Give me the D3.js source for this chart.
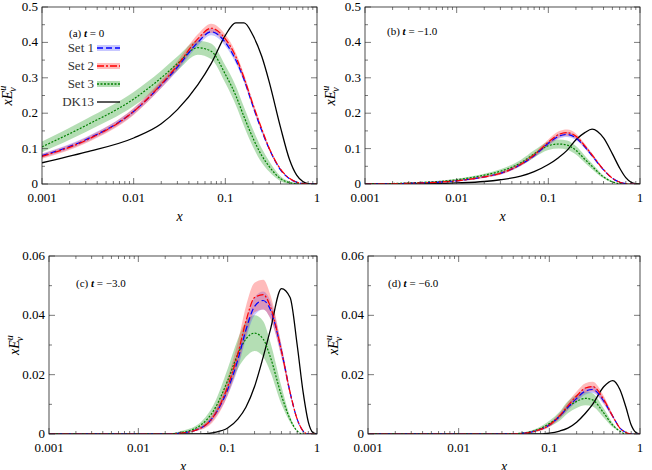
<!DOCTYPE html>
<html>
<head>
<meta charset="utf-8">
<script src="https://d3js.org/d3.v7.min.js"></script>
<style>
  body { margin: 0; background: white; }
  text { font-family: "Liberation Serif", "DejaVu Serif", serif; }
</style>
</head>
<body>
<svg id="svg" width="652" height="470"></svg>
<script>
// shared x grid
var xs = [0.001,0.003,0.01,0.02,0.03,0.05,0.07,0.1,0.13,0.16,0.2,0.25,0.3,0.4,0.5,0.6,0.7,0.8,0.9,1]

// panel (a) t = 0
var a1 = [.08,.125,.205,.28,.33,.40,.43,.40,.35,.295,.22,.15,.10,.04,.015,.005,.001,0,0,0]
var a2 = [.078,.123,.205,.282,.335,.41,.44,.41,.36,.30,.225,.155,.102,.042,.016,.005,.001,0,0,0]
var a3 = [.105,.165,.24,.30,.34,.385,.375,.31,.25,.19,.13,.08,.05,.015,.004,.001,0,0,0,0]
var aDK = [.06,.09,.13,.17,.21,.28,.34,.42,.455,.455,.42,.36,.29,.16,.07,.025,.007,.001,0,0]
var aE1 = [.006,.007,.008,.009,.01,.01,.01,.01,.009,.008,.007,.005,.004,.002,.001,0,0,0,0,0]
var aE2 = [.007,.008,.01,.011,.012,.013,.013,.012,.011,.01,.008,.006,.005,.002,.001,0,0,0,0,0]
var aE3 = [.015,.018,.02,.02,.02,.02,.022,.025,.027,.027,.025,.02,.015,.007,.003,.001,0,0,0,0]

// panel (b) t = -1.0
var b1 = [0,.002,.009,.02,.03,.055,.08,.115,.135,.14,.13,.105,.08,.04,.016,.005,.001,0,0,0]
var b2 = [0,.002,.009,.02,.03,.056,.082,.118,.14,.145,.135,.108,.082,.041,.016,.005,.001,0,0,0]
var b3 = [0,.003,.012,.025,.036,.06,.085,.108,.113,.11,.095,.07,.05,.02,.006,.001,0,0,0,0]
var bDK = [0,0,.003,.007,.012,.022,.035,.055,.075,.095,.125,.145,.155,.13,.085,.045,.018,.005,.001,0]
var bE1 = [0,.001,.002,.002,.003,.004,.005,.006,.007,.007,.006,.005,.004,.002,.001,0,0,0,0,0]
var bE2 = [0,.001,.002,.003,.004,.005,.006,.008,.009,.009,.008,.006,.005,.002,.001,0,0,0,0,0]
var bE3 = [0,.001,.003,.004,.006,.008,.01,.012,.013,.013,.012,.01,.008,.004,.002,0,0,0,0,0]

// panel (c) t = -3.0
var c1 = [0,0,0,0,.0003,.002,.006,.015,.025,.035,.043,.045,.042,.028,.014,.005,.001,0,0,0]
var c2 = [0,0,0,0,.0003,.002,.006,.016,.027,.038,.046,.047,.043,.028,.014,.005,.001,0,0,0]
var c3 = [0,0,0,0,.0005,.003,.008,.018,.027,.032,.034,.032,.026,.013,.005,.001,0,0,0,0]
var cDK = [0,0,0,0,0,0,.0005,.002,.005,.009,.016,.026,.035,.049,.046,.03,.014,.004,.0005,0]
var cE1 = [0,0,0,0,0,.0005,.001,.002,.003,.003,.003,.003,.003,.002,.001,0,0,0,0,0]
var cE2 = [0,0,0,0,0,.0006,.0015,.003,.004,.005,.005,.005,.004,.002,.001,0,0,0,0,0]
var cE3 = [0,0,0,0,.0005,.001,.002,.004,.005,.006,.006,.006,.005,.003,.001,0,0,0,0,0]

// panel (d) t = -6.0
var d1 = [0,0,0,0,0,.0002,.001,.003,.006,.009,.012,.0145,.015,.011,.006,.002,.0005,0,0,0]
var d2 = [0,0,0,0,0,.0002,.001,.003,.0062,.0095,.0128,.0155,.016,.0115,.006,.002,.0005,0,0,0]
var d3v = [0,0,0,0,0,.0003,.0012,.0035,.006,.009,.011,.012,.0115,.007,.003,.001,0,0,0,0]
var dDK = [0,0,0,0,0,0,0,.0003,.001,.002,.004,.007,.010,.016,.018,.015,.009,.003,.0005,0]
var dE1 = [0,0,0,0,0,0,.0002,.0005,.0008,.001,.0012,.0012,.0012,.001,.0005,0,0,0,0,0]
var dE2 = [0,0,0,0,0,0,.0003,.0007,.001,.0013,.0015,.0016,.0016,.0012,.0006,0,0,0,0,0]
var dE3 = [0,0,0,0,0,.0002,.0005,.001,.0015,.002,.0022,.0023,.0022,.0015,.0007,0,0,0,0,0]

var xTicks = [0.001, 0.01, 0.1, 1]
var xTickLabels = ["0.001", "0.01", "0.1", "1"]
var legendNames = ["Set 1", "Set 2", "Set 3", "DK13"]

var panels = [
  { box: [42, 7, 317, 184], ymax: 0.5, yt: [0, .1, .2, .3, .4, .5], dig: 1, minor: .05,
    label: "(a)", tval: "0", lab: [69, 37], s: [a1, a2, a3, aDK], e: [aE1, aE2, aE3], legend: true },
  { box: [365, 7, 640, 184], ymax: 0.5, yt: [0, .1, .2, .3, .4, .5], dig: 1, minor: .05,
    label: "(b)", tval: "\u22121.0", lab: [387, 35], s: [b1, b2, b3, bDK], e: [bE1, bE2, bE3] },
  { box: [49, 256, 317, 434], ymax: 0.06, yt: [0, .02, .04, .06], dig: 2, minor: .01,
    label: "(c)", tval: "\u22123.0", lab: [76, 287], s: [c1, c2, c3, cDK], e: [cE1, cE2, cE3] },
  { box: [368, 256, 640, 434], ymax: 0.06, yt: [0, .02, .04, .06], dig: 2, minor: .01,
    label: "(d)", tval: "\u22126.0", lab: [388, 287], s: [d1, d2, d3v, dDK], e: [dE1, dE2, dE3] }
]

var bandColors = ["rgba(70,70,255,0.3)", "rgba(255,60,60,0.35)", "rgba(40,160,40,0.35)"]
var lineColors = ["#0000ff", "#ff0000", "#008000", "#000000"]
var dashes = ["6,3", "7,2,2,2", "2,1.5", null]

var svg = d3.select("#svg")

panels.forEach(function (p) {
  var x = d3.scaleLog().domain([0.001, 1]).range([p.box[0], p.box[2]])
  var y = d3.scaleLinear().domain([0, p.ymax]).range([p.box[3], p.box[1]])
  var g = svg.append("g")
  var clipId = "clip" + p.label.replace(/\W/g, "")
  g.append("clipPath").attr("id", clipId).append("rect")
    .attr("x", p.box[0]).attr("y", p.box[1])
    .attr("width", p.box[2] - p.box[0]).attr("height", p.box[3] - p.box[1])
  var plot = g.append("g").attr("clip-path", "url(#" + clipId + ")")

  // bands (green first, then blue, then red on top)
  ;[2, 0, 1].forEach(function (k) {
    var area = d3.area().curve(d3.curveMonotoneX)
      .x(function (d, i) { return x(xs[i]) })
      .y0(function (d, i) { return y(Math.max(0, d - p.e[k][i])) })
      .y1(function (d, i) { return y(d + p.e[k][i]) })
    plot.append("path").datum(p.s[k]).attr("d", area).attr("fill", bandColors[k])
  })
  // lines
  ;[3, 2, 0, 1].forEach(function (k) {
    var line = d3.line().curve(d3.curveMonotoneX)
      .x(function (d, i) { return x(xs[i]) })
      .y(function (d) { return y(d) })
    plot.append("path").datum(p.s[k]).attr("d", line).attr("fill", "none")
      .attr("stroke", lineColors[k]).attr("stroke-width", k == 3 ? 1.3 : 1.2)
      .attr("stroke-dasharray", dashes[k])
  })

  // frame
  g.append("rect").attr("x", p.box[0]).attr("y", p.box[1])
    .attr("width", p.box[2] - p.box[0]).attr("height", p.box[3] - p.box[1])
    .attr("fill", "none").attr("stroke", "#222").attr("stroke-width", 0.8)

  // x ticks (major + minor), mirrored
  var minorX = []
  for (var dec = 0.001; dec < 0.9; dec *= 10)
    for (var m = 2; m <= 9; m++) minorX.push(dec * m)
  function tickX(v, len) {
    g.append("line").attr("x1", x(v)).attr("x2", x(v)).attr("y1", p.box[3]).attr("y2", p.box[3] - len).attr("stroke", "#222").attr("stroke-width", 0.6)
    g.append("line").attr("x1", x(v)).attr("x2", x(v)).attr("y1", p.box[1]).attr("y2", p.box[1] + len).attr("stroke", "#222").attr("stroke-width", 0.6)
  }
  xTicks.forEach(function (v, i) {
    tickX(v, 6)
    g.append("text").attr("x", x(v)).attr("y", p.box[3] + 18).attr("text-anchor", "middle")
      .attr("font-size", 13).text(xTickLabels[i])
  })
  minorX.forEach(function (v) { tickX(v, 3) })

  // y ticks
  function tickY(v, len) {
    g.append("line").attr("x1", p.box[0]).attr("x2", p.box[0] + len).attr("y1", y(v)).attr("y2", y(v)).attr("stroke", "#222").attr("stroke-width", 0.6)
    g.append("line").attr("x1", p.box[2]).attr("x2", p.box[2] - len).attr("y1", y(v)).attr("y2", y(v)).attr("stroke", "#222").attr("stroke-width", 0.6)
  }
  p.yt.forEach(function (v) {
    tickY(v, 6)
    g.append("text").attr("x", p.box[0] - 4).attr("y", y(v) + 4).attr("text-anchor", "end")
      .attr("font-size", 13).text(v == 0 ? "0" : v.toFixed(p.dig))
  })
  d3.range(p.minor, p.ymax, p.minor * 2).forEach(function (v) { tickY(v, 3) })

  // axis titles
  g.append("text").attr("x", (p.box[0] + p.box[2]) / 2).attr("y", p.box[3] + 37)
    .attr("text-anchor", "middle").attr("font-size", 14).attr("font-style", "italic").text("x")
  var yl = g.append("text").attr("transform", "translate(" + (p.box[0] - 30) + "," + ((p.box[1] + p.box[3]) / 2) + ") rotate(-90)")
    .attr("text-anchor", "middle").attr("font-size", 14).attr("font-style", "italic")
  yl.append("tspan").text("xE")
  yl.append("tspan").attr("font-size", 10).attr("dy", -6).text("u")
  yl.append("tspan").attr("font-size", 10).attr("dx", -6).attr("dy", 10).text("v")

  // panel label
  var pl = g.append("text").attr("x", p.lab[0]).attr("y", p.lab[1]).attr("font-size", 11)
  pl.append("tspan").text(p.label + " ")
  pl.append("tspan").attr("font-style", "italic").attr("font-weight", "bold").text("t")
  pl.append("tspan").text(" = " + p.tval)

  if (p.legend) {
    legendNames.forEach(function (n, k) {
      var ly = 48 + k * 18
      g.append("text").attr("x", 94).attr("y", ly + 4).attr("text-anchor", "end")
        .attr("font-size", 13).attr("fill", "#333").text(n)
      if (k < 3) g.append("line").attr("x1", 97).attr("x2", 120).attr("y1", ly).attr("y2", ly)
        .attr("stroke", bandColors[k]).attr("stroke-width", 6)
      g.append("line").attr("x1", 97).attr("x2", 120).attr("y1", ly).attr("y2", ly)
        .attr("stroke", lineColors[k]).attr("stroke-width", 1.3).attr("stroke-dasharray", dashes[k])
    })
  }
})
</script>
</body>
</html>
